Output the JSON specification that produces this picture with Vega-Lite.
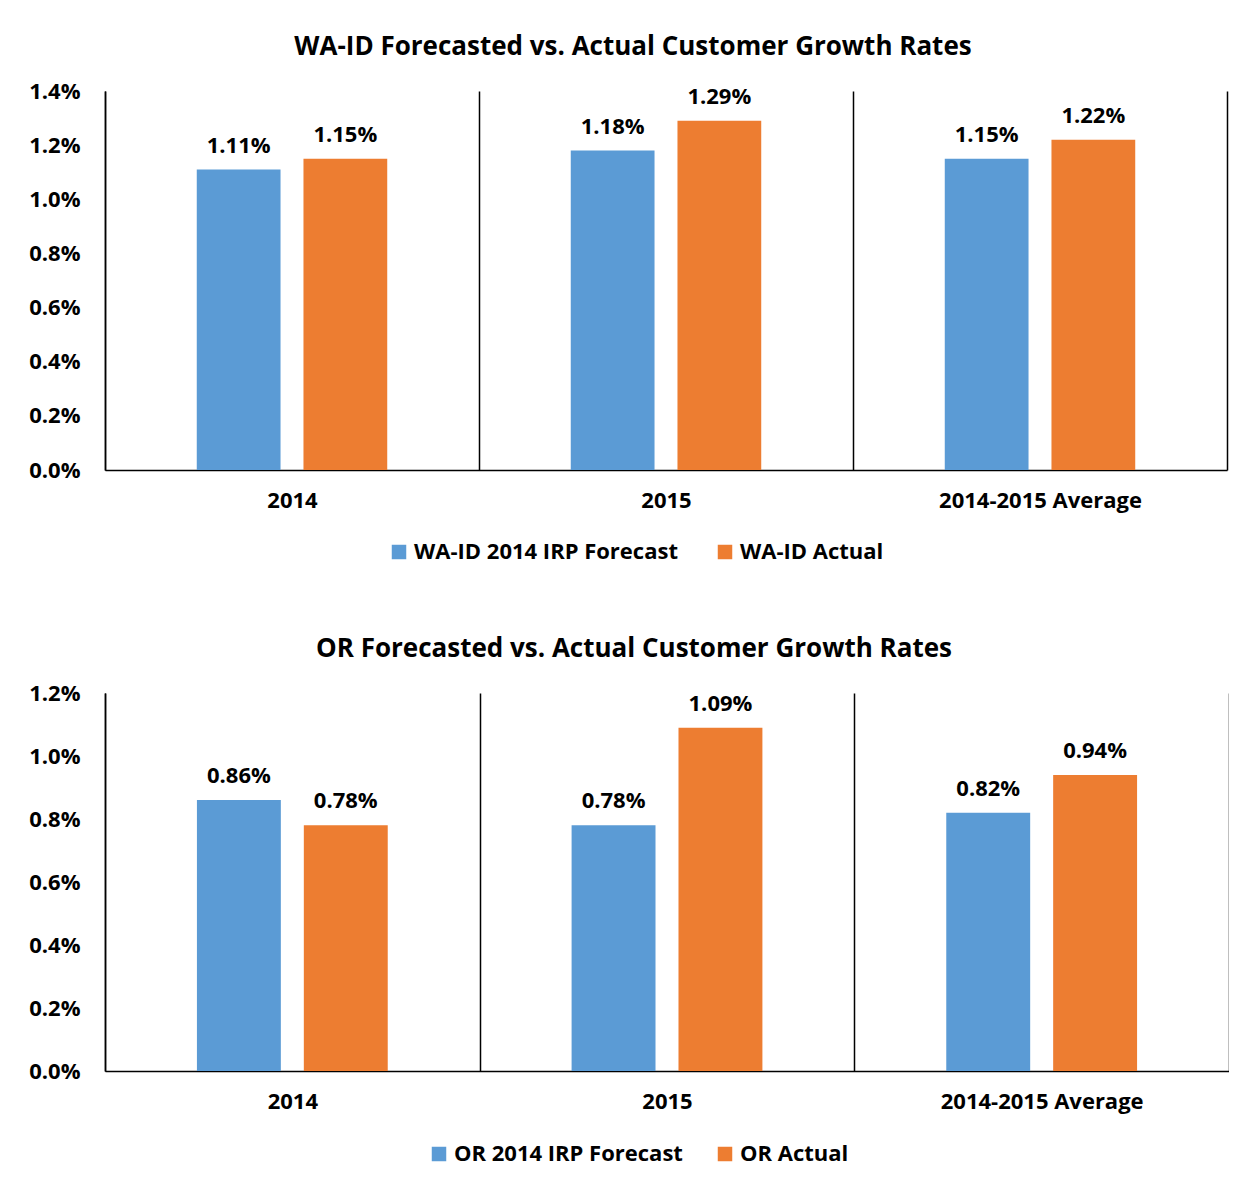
{
  "$schema": "https://vega.github.io/schema/vega-lite/v6.json",
  "padding": {"left": 28, "top": 34, "right": 0, "bottom": 70},
  "spacing": 73,
  "config": {
    "font": "Open Sans",
    "view": {"stroke": null},
    "title": {"fontSize": 26, "fontWeight": "bold", "color": "#000", "offset": 20, "anchor": "middle", "dx": -33},
    "axis": {"labelFont": "Open Sans", "labelFontWeight": "bold", "labelColor": "#000", "domainColor": "#000", "domainWidth": 1.5, "ticks": false, "title": null, "labelLimit": 0},
    "legend": {"labelFont": "Open Sans", "labelFontWeight": "bold", "labelFontSize": 22, "labelColor": "#000", "labelLimit": 0, "symbolType": "square", "symbolSize": 210, "symbolStrokeWidth": 0, "orient": "none", "direction": "horizontal", "columnPadding": 36, "title": null}
  },
  "datasets": {
    "wa": [
      {"cat": "2014", "series": "WA-ID 2014 IRP Forecast", "value": 0.0111},
      {"cat": "2014", "series": "WA-ID Actual", "value": 0.0115},
      {"cat": "2015", "series": "WA-ID 2014 IRP Forecast", "value": 0.0118},
      {"cat": "2015", "series": "WA-ID Actual", "value": 0.0129},
      {"cat": "2014-2015 Average", "series": "WA-ID 2014 IRP Forecast", "value": 0.0115},
      {"cat": "2014-2015 Average", "series": "WA-ID Actual", "value": 0.0122}
    ],
    "or": [
      {"cat": "2014", "series": "OR 2014 IRP Forecast", "value": 0.0086},
      {"cat": "2014", "series": "OR Actual", "value": 0.0078},
      {"cat": "2015", "series": "OR 2014 IRP Forecast", "value": 0.0078},
      {"cat": "2015", "series": "OR Actual", "value": 0.0109},
      {"cat": "2014-2015 Average", "series": "OR 2014 IRP Forecast", "value": 0.0082},
      {"cat": "2014-2015 Average", "series": "OR Actual", "value": 0.0094}
    ]
  },
  "vconcat": [
    {
      "title": "WA-ID Forecasted vs. Actual Customer Growth Rates",
      "width": 1122,
      "height": 379,
      "data": {"name": "wa"},
      "encoding": {
        "x": {"field": "cat", "type": "nominal", "sort": ["2014", "2015", "2014-2015 Average"],
              "scale": {"paddingInner": 0, "paddingOuter": 0},
              "axis": {"labelAngle": 0, "labelFontSize": 22, "labelPadding": 20, "grid": true, "tickBand": "extent", "gridColor": "#000", "gridOpacity": 1, "gridWidth": 1.5}},
        "xOffset": {"field": "series", "type": "nominal", "scale": {"domain": ["WA-ID 2014 IRP Forecast", "WA-ID Actual"], "paddingInner": 0.215, "paddingOuter": 0.86}},
        "y": {"field": "value", "type": "quantitative",
              "scale": {"domain": [0, 0.014], "nice": false},
              "axis": {"format": ".1%", "values": [0, 0.002, 0.004, 0.006, 0.008, 0.01, 0.012, 0.014], "grid": false, "labelFontSize": 22, "labelPadding": 25, "minExtent": 76, "maxExtent": 76}}
      },
      "layer": [
        {"mark": {"type": "bar"},
         "encoding": {"color": {"field": "series", "type": "nominal", "scale": {"domain": ["WA-ID 2014 IRP Forecast", "WA-ID Actual"], "range": ["#5B9BD5", "#ED7D31"]},
                                "legend": {"legendX": 283, "legendY": 450}}}},
        {"mark": {"type": "text", "dy": -24, "fontSize": 22, "fontWeight": "bold", "color": "#000"},
         "encoding": {"text": {"field": "value", "type": "quantitative", "format": ".2%"}}}
      ]
    },
    {
      "title": "OR Forecasted vs. Actual Customer Growth Rates",
      "width": 1124,
      "height": 378,
      "data": {"name": "or"},
      "encoding": {
        "x": {"field": "cat", "type": "nominal", "sort": ["2014", "2015", "2014-2015 Average"],
              "scale": {"paddingInner": 0, "paddingOuter": 0},
              "axis": {"labelAngle": 0, "labelFontSize": 22, "labelPadding": 20, "grid": true, "tickBand": "extent", "gridColor": "#000", "gridOpacity": 1, "gridWidth": 1.5}},
        "xOffset": {"field": "series", "type": "nominal", "scale": {"domain": ["OR 2014 IRP Forecast", "OR Actual"], "paddingInner": 0.215, "paddingOuter": 0.86}},
        "y": {"field": "value", "type": "quantitative",
              "scale": {"domain": [0, 0.012], "nice": false},
              "axis": {"format": ".1%", "values": [0, 0.002, 0.004, 0.006, 0.008, 0.01, 0.012], "grid": false, "labelFontSize": 22, "labelPadding": 25, "minExtent": 74, "maxExtent": 74}}
      },
      "layer": [
        {"mark": {"type": "bar"},
         "encoding": {"color": {"field": "series", "type": "nominal", "scale": {"domain": ["OR 2014 IRP Forecast", "OR Actual"], "range": ["#5B9BD5", "#ED7D31"]},
                                "legend": {"legendX": 323, "legendY": 450, "columnPadding": 31}}}},
        {"mark": {"type": "text", "dy": -24, "fontSize": 22, "fontWeight": "bold", "color": "#000"},
         "encoding": {"text": {"field": "value", "type": "quantitative", "format": ".2%"}}}
      ]
    }
  ],
  "resolve": {"scale": {"color": "independent", "xOffset": "independent", "x": "independent", "y": "independent"}}
}
